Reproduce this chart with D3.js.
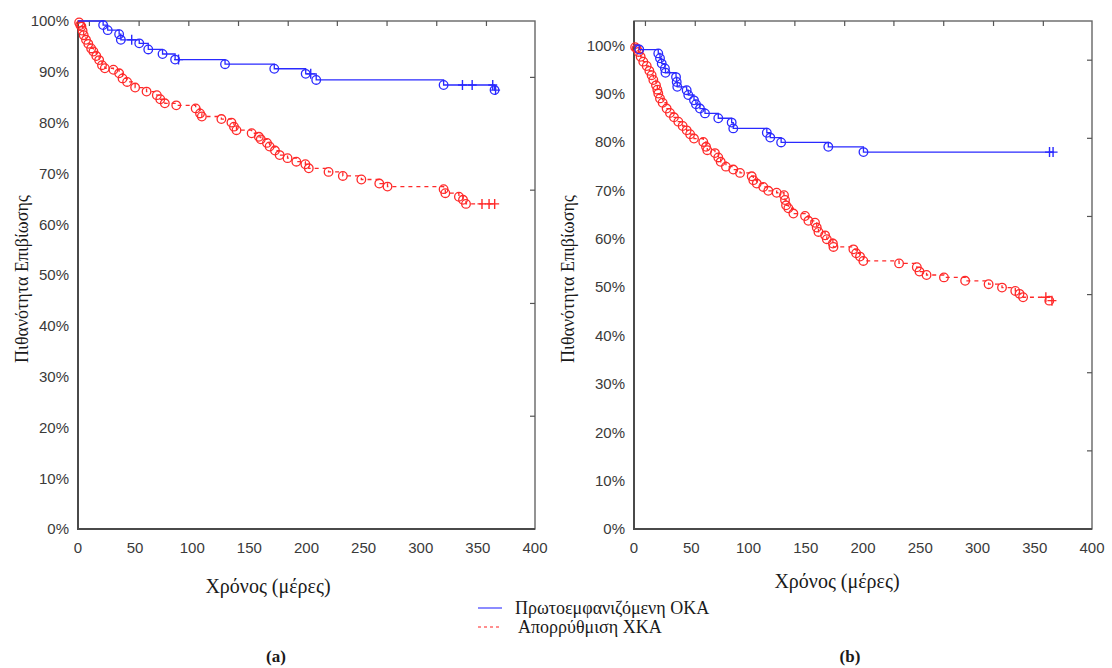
<!DOCTYPE html>
<html lang="el">
<head>
<meta charset="UTF-8">
<title>Καμπύλες Επιβίωσης</title>
<style>
    body { margin: 0; background: #fff; }
    svg { display: block; }
    .tick-label { font-family: "Liberation Sans", Arial, sans-serif; font-size: 15px; fill: #3a3a3a; }
    .serif { font-family: "Liberation Serif", "DejaVu Serif", "Times New Roman", serif; fill: #1a1a1a; }
</style>
</head>
<body>
<div id="chart"></div>
<script src="https://cdn.jsdelivr.net/npm/d3@7"></script>
<script>
// ---- data (days, survival %) ----
// panel (a)
var aBlueEvents = [[22,99.2],[26,98.2],[36,97.4],[37.5,96.3],[53.6,95.6],[61.5,94.4],[74,93.5],[85,92.4],
    [128.7,91.5],[171.8,90.6],[199.3,89.6],[208.5,88.4],[320,87.4],[364.6,86.4]];
var aBlueCensored = [47, 88, 203.7, 336.5, 345, 363, 365.5];

var aRedEvents = [[1,99.7],[2,99.2],[3,98.9],[4,98.1],[5,97.2],[7,96.3],[9,95.5],[11.5,94.6],[13.5,94.0],
    [16,93.1],[18.5,92.3],[21,91.3],[23.5,90.7],[31,90.4],[36,89.7],[39,88.7],[43,88.0],[50,86.9],[60,86.1],
    [69,85.4],[72,84.6],[76,83.8],[86,83.4],[103,82.8],[106.8,81.8],[108.4,81.2],[125.5,80.7],[134.3,80.0],
    [136.5,79.2],[138.7,78.5],[152,77.9],[158.3,77.2],[160,76.7],[165.4,76.0],[167.7,75.3],[172.4,74.5],
    [176.5,73.6],[183.4,73.0],[191.1,72.3],[199,71.8],[202,71.0],[219.3,70.3],[231.8,69.5],[248,68.8],
    [263.7,68.0],[270.9,67.4],[320,66.9],[321.5,66.1],[333.4,65.4],[337,64.8],[339.6,64.0]];
var aRedCensored = [353.6, 359.8, 364.7];

// panel (b)
var bBlueEvents = [[4.6,99.1],[21.2,98.3],[22.7,97.3],[24.2,96.2],[27,95.2],[27.5,94.3],[36.7,93.4],[37.3,92.4],
    [37.8,91.4],[46,90.7],[47.4,89.7],[52.4,88.6],[54.1,87.8],[57.6,86.9],[62,85.9],[73.6,84.9],[85.3,84.0],
    [86.7,82.8],[116,81.9],[119,80.9],[128.5,79.9],[169.7,79.0],[200.4,77.9]];
var bBlueCensored = [362.9, 366];

var bRedEvents = [[1,99.6],[2.3,99.3],[4,98.6],[5.8,97.6],[8.1,96.6],[11.1,95.7],[13.4,94.7],[15.4,93.8],
    [16.9,92.8],[19.2,91.7],[20.4,90.8],[21.2,90.0],[22.7,89.0],[25,88.1],[28.5,86.9],[31.4,86.0],[34.9,85.1],
    [38.7,84.2],[42.5,83.3],[46,82.4],[49,81.6],[52.4,80.7],[60.5,80.0],[62.9,79.0],[64,78.3],[70.7,77.7],
    [73.6,76.8],[75.7,75.9],[80.3,74.9],[86.7,74.3],[92.6,73.6],[102.8,72.9],[104.2,72.1],[107.2,71.4],
    [112.9,70.7],[117.3,69.9],[124.6,69.5],[131,69.0],[131.9,68.0],[132.8,66.9],[134.8,66.3],[139.2,65.2],
    [149.4,64.7],[152.3,63.7],[158.1,63.3],[159.6,62.3],[161.1,61.4],[166.9,60.7],[168.4,59.9],[173.7,59.0],
    [174.2,58.3],[191.6,57.8],[194,57.0],[197.4,56.3],[200.3,55.4],[231.5,54.9],[247,54.1],[249.3,53.2],
    [255.5,52.5],[270.7,52.0],[289.2,51.3],[309.7,50.6],[321.4,49.9],[333,49.2],[336.7,48.6],[339.8,47.9],
    [362.7,47.2]];
var bRedCensored = [359.7, 365];

// axes
var xTicks = [0, 50, 100, 150, 200, 250, 300, 350, 400];
var topTicks = [10, 53.5, 97, 140.5, 184, 227, 270.5, 314, 357.5];
var yTicks = [0, 0.1, 0.2, 0.3, 0.4, 0.5, 0.6, 0.7, 0.8, 0.9, 1.0];
var aRightTicks = [0.222, 0.444, 0.667, 0.889];
var bRightTicks = [0.1615, 0.323, 0.4845, 0.646, 0.8075, 0.969];

var legendLabels = ["Πρωτοεμφανιζόμενη ΟΚΑ", "Απορρύθμιση ΧΚΑ"];
var yTitle = "Πιθανότητα Επιβίωσης";
var xTitle = "Χρόνος (μέρες)";

var BLUE = "#2a2aff", RED = "#ff2a2a";

var svg = d3.select("#chart").append("svg")
    .attr("width", 1112).attr("height", 668);

var panels = [
    { left: 78, right: 535, top: 21, bottom: 529, ymax: 1.0, right_ticks: aRightTicks,
      blue: aBlueEvents, blueC: aBlueCensored, red: aRedEvents, redC: aRedCensored,
      ytx: 22, xtx: 268, xty: 593, capx: 276, cap: "(a)" },
    { left: 634, right: 1092, top: 21, bottom: 529, ymax: 1.05, right_ticks: bRightTicks,
      blue: bBlueEvents, blueC: bBlueCensored, red: bRedEvents, redC: bRedCensored,
      ytx: 568, xtx: 837, xty: 588, capx: 850, cap: "(b)" }
];

// value of step function at time t
function survAt(events, t) {
    var s = 100;
    events.forEach(function(e) { if (e[0] <= t) s = e[1]; });
    return s;
}

panels.forEach(function(p) {
    var x = d3.scaleLinear().domain([0, 400]).range([p.left, p.right]);
    var y = d3.scaleLinear().domain([0, p.ymax]).range([p.bottom, p.top]);
    var g = svg.append("g");

    // frame
    g.append("rect")
        .attr("x", p.left).attr("y", p.top)
        .attr("width", p.right - p.left).attr("height", p.bottom - p.top)
        .attr("fill", "none").attr("stroke", "#666").attr("stroke-width", 1.4);
    g.append("path")
        .attr("d", "M" + p.left + "," + p.top + "V" + p.bottom + "H" + p.right)
        .attr("fill", "none").attr("stroke", "#4a4a4a").attr("stroke-width", 2);

    // inward ticks on top and right
    g.selectAll(".tt").data(topTicks).enter().append("line")
        .attr("x1", function(d) { return x(d); }).attr("x2", function(d) { return x(d); })
        .attr("y1", p.top).attr("y2", p.top + 5)
        .attr("stroke", "#555").attr("stroke-width", 1.2);
    g.selectAll(".rt").data(p.right_ticks).enter().append("line")
        .attr("x1", p.right).attr("x2", p.right - 5)
        .attr("y1", function(d) { return y(d); }).attr("y2", function(d) { return y(d); })
        .attr("stroke", "#555").attr("stroke-width", 1.2);

    // tick labels
    g.selectAll(".yl").data(yTicks).enter().append("text")
        .attr("class", "tick-label")
        .attr("x", p.left - 9).attr("y", function(d) { return y(d); })
        .attr("dy", "0.36em").attr("text-anchor", "end")
        .text(function(d) { return d3.format(".0%")(d); });
    g.selectAll(".xl").data(xTicks).enter().append("text")
        .attr("class", "tick-label")
        .attr("x", function(d) { return x(d); }).attr("y", p.bottom + 24)
        .attr("text-anchor", "middle")
        .text(function(d) { return d; });

    // titles
    g.append("text").attr("class", "serif")
        .attr("transform", "translate(" + p.ytx + ",279) rotate(-90)")
        .attr("text-anchor", "middle").attr("dy", "0.35em")
        .style("font-size", "18px").text(yTitle);
    g.append("text").attr("class", "serif")
        .attr("x", p.xtx).attr("y", p.xty)
        .attr("text-anchor", "middle")
        .style("font-size", "20px").text(xTitle);
    g.append("text").attr("class", "serif")
        .attr("x", p.capx).attr("y", 662)
        .attr("text-anchor", "middle")
        .style("font-size", "17px").style("font-weight", "bold").text(p.cap);

    // curves
    var line = d3.line()
        .x(function(d) { return x(d[0]); })
        .y(function(d) { return y(d[1] / 100); })
        .curve(d3.curveStepAfter);

    [{ ev: p.red, cens: p.redC, color: RED, dash: "4,4" },
     { ev: p.blue, cens: p.blueC, color: BLUE, dash: null }].forEach(function(s) {
        var tEnd = d3.max(s.cens.concat(s.ev.map(function(e) { return e[0]; })));
        var pts = [[0, 100]].concat(s.ev).concat([[tEnd, s.ev[s.ev.length - 1][1]]]);
        g.append("path").datum(pts)
            .attr("d", line)
            .attr("fill", "none").attr("stroke", s.color)
            .attr("stroke-width", 1.3)
            .attr("stroke-dasharray", s.dash);

        g.selectAll(null).data(s.ev).enter().append("circle")
            .attr("cx", function(d) { return x(d[0]); })
            .attr("cy", function(d) { return y(d[1] / 100); })
            .attr("r", 4.3)
            .attr("fill", "none").attr("stroke", s.color).attr("stroke-width", 1.3);

        g.selectAll(null).data(s.cens).enter().append("path")
            .attr("d", function(t) {
                var cx = x(t), cy = y(survAt(s.ev, t) / 100);
                return "M" + (cx - 4.5) + "," + cy + "H" + (cx + 4.5) + "M" + cx + "," + (cy - 5) + "V" + (cy + 5);
            })
            .attr("stroke", s.color).attr("stroke-width", 1.4);
    });
});

// legend (centred between the panels)
var legend = svg.append("g").attr("transform", "translate(478,608)");
legendLabels.forEach(function(lbl, i) {
    var row = legend.append("g").attr("transform", "translate(0," + (i * 19) + ")");
    row.append("line").attr("x1", 0).attr("x2", 24).attr("y1", 0).attr("y2", 0)
        .attr("stroke", i === 0 ? "#8c8cff" : "#ff6b6b")
        .attr("stroke-width", i === 0 ? 2 : 1.4)
        .attr("stroke-dasharray", i === 0 ? null : "3,3");
    row.append("text").attr("class", "serif")
        .attr("x", i === 0 ? 37 : 40).attr("y", 0).attr("dy", "0.35em")
        .style("font-size", "18px").text(lbl);
});
</script>
</body>
</html>
